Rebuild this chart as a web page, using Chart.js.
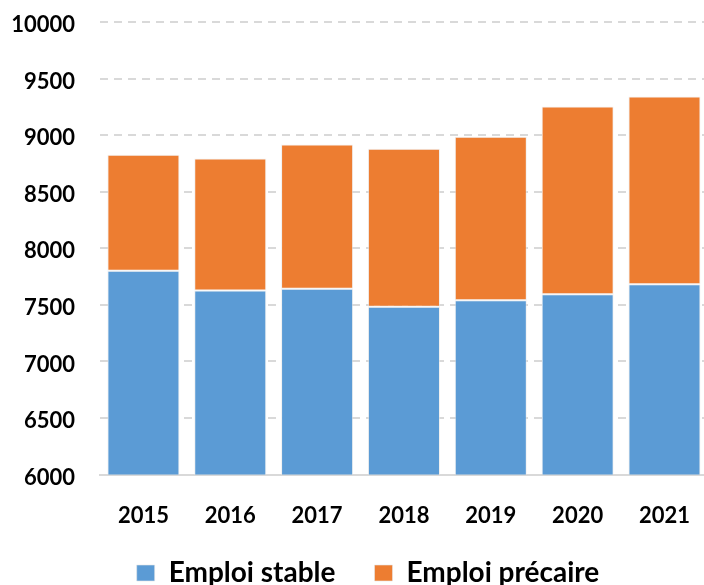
<!DOCTYPE html>
<html>
<head>
<meta charset="utf-8">
<script src="https://cdn.jsdelivr.net/npm/chart.js@4/dist/chart.umd.min.js"></script>
<style>
    html, body { margin: 0; padding: 0; background: #fff; overflow: hidden; }
    #wrap { position: relative; top: -16px; width: 718px; height: 650px; }
</style>
</head>
<body>
<div id="wrap"><canvas id="emploiChart"></canvas></div>
<script>
const years = ["2015", "2016", "2017", "2018", "2019", "2020", "2021"]
const emploiStable = [7803, 7627, 7644, 7485, 7542, 7595, 7683]
const emploiPrecaire = [1026, 1167, 1274, 1397, 1446, 1659, 1659]
const yTicks = [6000, 6500, 7000, 7500, 8000, 8500, 9000, 9500, 10000]

const blue = "#5B9BD5"
const orange = "#ED7D31"
const gridGrey = "#D9D9D9"
const fontFamily = "Lato, 'Open Sans', sans-serif"

// put the legend row where the original has it
const legendRowTop = 536
const legendShiftX = 9
const placeLegend = {
    id: "placeLegend",
    afterLayout(chart) {
        const lg = chart.legend
        if (!lg) return
        const dy = lg.top - legendRowTop
        lg.top -= dy
        lg.bottom -= dy
        lg.left += legendShiftX
        lg.right += legendShiftX
    }
}

const ctx = document.getElementById("emploiChart").getContext("2d")

new Chart(ctx, {
    type: "bar",
    data: {
        labels: years,
        datasets: [
            {
                label: "Emploi stable",
                data: emploiStable,
                backgroundColor: blue,
                borderColor: "rgba(230,230,230,0.6)",
                borderWidth: 1,
                borderSkipped: false
            },
            {
                label: "Emploi précaire",
                data: emploiPrecaire,
                backgroundColor: orange,
                borderColor: "rgba(230,230,230,0.6)",
                borderWidth: 1,
                borderSkipped: false
            }
        ]
    },
    options: {
        responsive: true,
        maintainAspectRatio: false,
        animation: false,
        datasets: {
            bar: { categoryPercentage: 1, barPercentage: 0.83 }
        },
        layout: { padding: { top: 4, left: 0, right: 0, bottom: 0 } },
        scales: {
            x: {
                stacked: true,
                grid: { display: false, drawTicks: false },
                border: { display: true, color: gridGrey, width: 2 },
                ticks: {
                    color: "#000",
                    padding: 28,
                    font: { family: fontFamily, size: 22, weight: "bold" }
                }
            },
            y: {
                stacked: true,
                min: 6000,
                max: 10000,
                afterFit: (scale) => { scale.width = 100 },
                afterBuildTicks: (scale) => { scale.ticks = yTicks.map(v => ({ value: v })) },
                border: { display: false, dash: [8, 6] },
                grid: {
                    color: gridGrey,
                    lineWidth: 2,
                    drawTicks: false
                },
                ticks: {
                    color: "#000",
                    padding: 25,
                    labelOffset: 3,
                    callback: (v) => String(v),
                    font: { family: fontFamily, size: 22, weight: "bold" }
                }
            }
        },
        plugins: {
            tooltip: { enabled: false },
            legend: {
                display: true,
                position: "bottom",
                labels: {
                    color: "#000",
                    boxWidth: 18,
                    boxHeight: 16,
                    padding: 39,
                    font: { family: fontFamily, size: 28, weight: "bold" }
                }
            }
        }
    },
    plugins: [placeLegend]
})
</script>
</body>
</html>
